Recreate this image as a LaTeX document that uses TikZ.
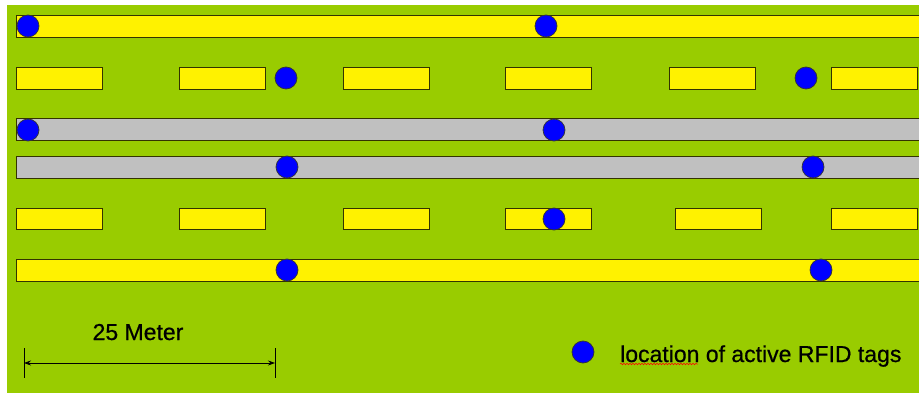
\documentclass[tikz,border=0pt]{standalone}
\usepackage{fontspec}
\setmainfont{Liberation Sans}[FakeBold=1.2]
\newfontfamily\labelfont{Liberation Sans}[FakeBold=0.6]
\usetikzlibrary{decorations.pathmorphing,arrows.meta}
\definecolor{field}{HTML}{99CC00}
\definecolor{lanegray}{HTML}{C0C0C0}
\definecolor{rimcol}{HTML}{333300}
\tikzset{
  lane/.style={draw=rimcol, line width=0.9pt},
  tagdot/.style={circle, fill=blue, draw=black!80, line width=0.7pt, minimum size=22pt, inner sep=0pt},
  bigtext/.style={inner sep=0pt, font=\labelfont\fontsize{23}{27}\selectfont}
}
\begin{document}
\begin{tikzpicture}[x=1pt, y=-1pt, >={Stealth[length=7pt, width=5pt]}]
  \useasboundingbox (0,0) rectangle (919,393);
  \clip (0,0) rectangle (919,393);
  \fill[field] (7,5) rectangle (919,393);

  % long lanes
  \draw[lane, fill=yellow] (16,15) rectangle (930,37);
  \draw[lane, fill=lanegray] (16,118) rectangle (930,140);
  \draw[lane, fill=lanegray] (16,156) rectangle (930,178);
  \draw[lane, fill=yellow] (16,259) rectangle (930,281);

  % short blocks
  \foreach \x in {16,179,343,505,669,831}
    \draw[lane, fill=yellow] (\x,67) rectangle ++(86,22);
  \foreach \x in {16,179,343,505,675,831}
    \draw[lane, fill=yellow] (\x,208) rectangle ++(86,21);

  % tags
  \node[tagdot] (ta) at (28,26) {};
  \node[tagdot] (tb) at (546,26) {};
  \node[tagdot] (tc) at (286,78) {};
  \node[tagdot] (td) at (806,78) {};
  \node[tagdot] (te) at (28,130) {};
  \node[tagdot] (tf) at (554,130) {};
  \node[tagdot] (tg) at (287,167) {};
  \node[tagdot] (th) at (813,167) {};
  \node[tagdot] (ti) at (554,219) {};
  \node[tagdot] (tj) at (287,270) {};
  \node[tagdot] (tk) at (821,270) {};

  % scale bar
  \coordinate (sl) at (24,363);
  \coordinate (sr) at (275,363);
  \draw[line width=0.8pt] (24,348) -- (24,378);
  \draw[line width=0.8pt] (275,348) -- (275,378);
  \draw[<->, line width=0.8pt] (sl) -- (sr);
  \node[bigtext, anchor=base] (scale) at (138,340) {25 Meter};

  % legend
  \node[tagdot] (key) at (583,352) {};
  \node[bigtext, anchor=base west] (keytext) at (620,362) {location of active RFID tags};
  \draw[red, line width=0.5pt, decorate, decoration={snake, amplitude=0.8pt, segment length=3pt}]
    (620,364) -- (698,364);
\end{tikzpicture}
\end{document}
